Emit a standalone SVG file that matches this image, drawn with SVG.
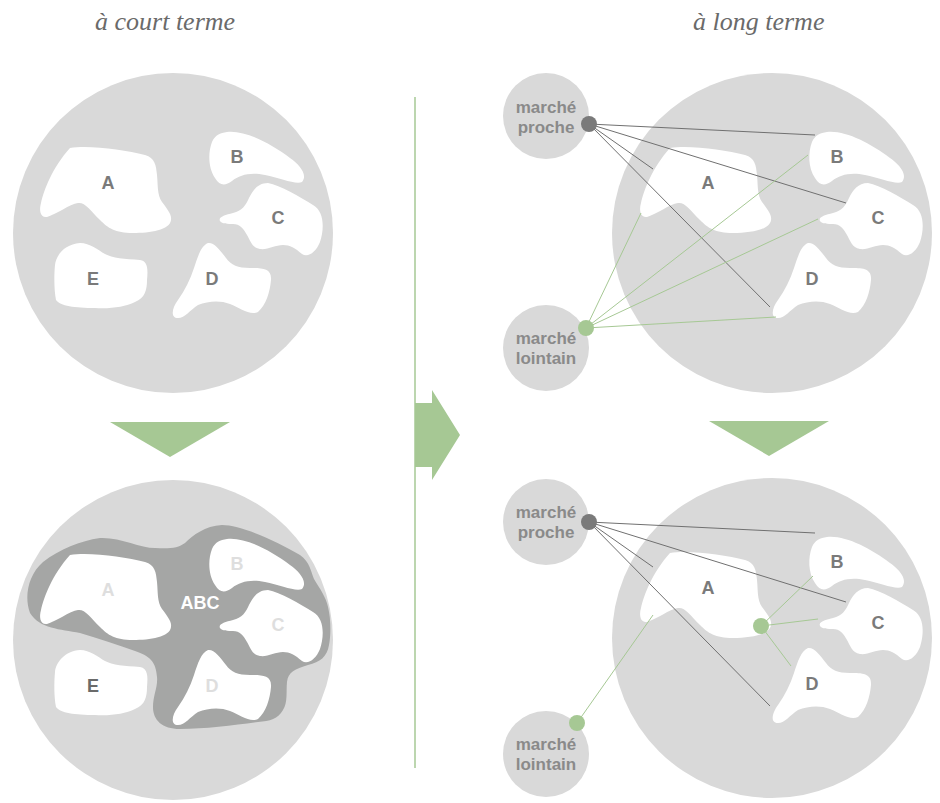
<svg xmlns="http://www.w3.org/2000/svg" xmlns:xlink="http://www.w3.org/1999/xlink" width="940" height="803" viewBox="0 0 940 803">
  <style>
    .disc { fill: #d9d9d9; }
    .blob { fill: #ffffff; }
    .merge { fill: #a5a6a5; }
    .lbl { font-family: 'Liberation Sans', Arial, sans-serif; font-weight: bold; font-size: 18px; text-anchor: middle; fill: #7a7a7a; }
    .lbl.faint { fill: #dedede; }
    .lbl.dark { fill: #6a6a6a; }
    .lbl.white { fill: #ffffff; }
    .title { font-family: 'Liberation Serif', 'Times New Roman', serif; font-style: italic; font-size: 26px; fill: #6a6a6a; }
    .mkt { font-family: 'Liberation Sans', Arial, sans-serif; font-weight: bold; font-size: 17px; text-anchor: middle; fill: #8a8a8a; }
    .near { stroke: #707070; stroke-width: 1; fill: none; }
    .far { stroke: #a6c894; stroke-width: 1; fill: none; }
    .green { fill: #a6c894; }
    .dot { fill: #7a7a7a; }
  </style>
  <defs>
    <path id="shapeA" d="M 70,148 C 90,145 125,150 145,155 C 155,158 156,165 157,175 C 158,185 157,195 162,202 C 168,210 172,215 171,220 C 170,230 150,233 133,233 C 115,233 108,228 100,220 C 90,210 85,202 78,203 C 70,204 55,215 47,217 C 40,218 39,210 41,203 C 44,190 52,168 70,148 Z"/>
    <path id="shapeB" d="M 227,132 C 245,130 270,143 290,158 C 300,165 308,175 302,182 C 296,185 280,178 265,175 C 250,172 240,175 232,181 C 225,186 220,186 215,178 C 208,168 208,152 212,142 C 215,135 220,133 227,132 Z"/>
    <path id="shapeC" d="M 268,183 C 280,185 300,197 313,205 C 325,212 324,230 320,242 C 316,252 308,258 302,254 C 295,248 290,245 283,245 C 275,245 268,250 260,249 C 252,248 250,240 247,235 C 243,228 240,224 233,224 C 228,224 222,224 220,221 C 218,217 225,215 233,213 C 242,211 246,205 249,198 C 253,190 258,183 268,183 Z"/>
    <path id="shapeD" d="M 208,243 C 214,242 220,250 226,258 C 231,265 238,268 250,268 C 262,268 272,268 271,280 C 270,292 266,305 258,312 C 250,316 240,308 230,304 C 220,300 208,301 198,305 C 190,310 185,318 178,318 C 170,318 172,308 178,300 C 185,290 190,280 194,268 C 198,256 201,246 208,243 Z"/>
    <path id="shapeE" d="M 80,243 C 90,243 98,250 105,254 C 112,258 125,259 140,260 C 148,261 148,270 147,280 C 147,290 145,298 135,302 C 125,307 110,309 95,308 C 75,308 60,306 56,300 C 54,290 54,275 55,265 C 56,255 65,244 80,243 Z"/>
    <path id="shapeABC" d="M 30,206 C 24,190 28,168 43,155 C 60,142 80,134 100,131 C 120,130 140,141 155,141 C 170,142 178,141 185,136 C 193,128 205,119 222,118 C 240,118 275,133 300,148 C 310,155 311,165 314,172 C 320,182 326,190 328,200 C 331,212 331,228 329,238 C 327,250 320,255 308,258 C 295,262 288,265 287,275 C 286,285 288,295 283,303 C 278,312 270,314 258,315 C 235,318 205,322 180,322 C 162,322 153,313 153,300 C 153,288 158,280 157,270 C 156,255 150,249 135,244 C 118,238 100,232 80,226 C 60,222 40,222 30,206 Z"/>
    <polygon id="downArrow" points="0,0 120,0 60,35"/>
  </defs>

  <!-- column headings -->
  <text class="title" x="95" y="30" font-family="Liberation Serif, serif" font-style="italic">à court terme</text>
  <text class="title" x="693" y="30" font-family="Liberation Serif, serif" font-style="italic">à long terme</text>

  <!-- divider and transition arrow -->
  <g id="divider">
    <line x1="415" y1="97" x2="415" y2="768" stroke="#a6c894" stroke-width="1.5"/>
    <polygon class="green" points="415,403 432,403 432,390 460,435 432,480 432,467 415,467"/>
  </g>

  <!-- short term: separate markets -->
  <g id="short-before">
    <circle class="disc" cx="173" cy="233" r="160"/>
    <g id="sb-A"><use href="#shapeA" class="blob"/><text class="lbl" x="108" y="189">A</text></g>
    <g id="sb-B"><use href="#shapeB" class="blob"/><text class="lbl" x="237" y="163">B</text></g>
    <g id="sb-C"><use href="#shapeC" class="blob"/><text class="lbl" x="278" y="224">C</text></g>
    <g id="sb-D"><use href="#shapeD" class="blob"/><text class="lbl" x="212" y="285">D</text></g>
    <g id="sb-E"><use href="#shapeE" class="blob"/><text class="lbl" x="93" y="285">E</text></g>
  </g>

  <use href="#downArrow" class="green" x="110" y="422"/>

  <!-- short term: merged ABC zone -->
  <g id="short-after" transform="translate(0,407)">
    <circle class="disc" cx="173" cy="233" r="160"/>
    <g id="sa-ABC"><use href="#shapeABC" class="merge"/><text class="lbl white" x="200" y="202">ABC</text></g>
    <g id="sa-A"><use href="#shapeA" class="blob"/><text class="lbl faint" x="108" y="189">A</text></g>
    <g id="sa-B"><use href="#shapeB" class="blob"/><text class="lbl faint" x="237" y="163">B</text></g>
    <g id="sa-C"><use href="#shapeC" class="blob"/><text class="lbl faint" x="278" y="224">C</text></g>
    <g id="sa-D"><use href="#shapeD" class="blob"/><text class="lbl faint" x="212" y="285">D</text></g>
    <g id="sa-E"><use href="#shapeE" class="blob"/><text class="lbl dark" x="93" y="285">E</text></g>
  </g>

  <!-- long term: each region served from both markets -->
  <g id="long-before">
    <circle class="disc" cx="772" cy="233" r="160"/>
    <g transform="translate(600,0)">
      <g id="lb-A"><use href="#shapeA" class="blob"/><text class="lbl" x="108" y="189">A</text></g>
      <g id="lb-B"><use href="#shapeB" class="blob"/><text class="lbl" x="237" y="163">B</text></g>
      <g id="lb-C"><use href="#shapeC" class="blob"/><text class="lbl" x="278" y="224">C</text></g>
      <g id="lb-D"><use href="#shapeD" class="blob"/><text class="lbl" x="212" y="285">D</text></g>
    </g>
  </g>
  <g id="lb-near-market">
    <circle class="disc" cx="546" cy="116" r="43"/>
    <text class="mkt" x="546" y="113">marché</text>
    <text class="mkt" x="546" y="133">proche</text>
  </g>
  <g id="lb-far-market">
    <circle class="disc" cx="546" cy="348" r="43"/>
    <text class="mkt" x="546" y="344">marché</text>
    <text class="mkt" x="546" y="364">lointain</text>
  </g>
  <g id="lb-connectors">
    <line class="near" x1="589" y1="124" x2="815" y2="135"/>
    <line class="near" x1="589" y1="124" x2="846" y2="203"/>
    <line class="near" x1="589" y1="124" x2="653" y2="169"/>
    <line class="near" x1="589" y1="124" x2="770" y2="307"/>
    <line class="far" x1="586" y1="328" x2="641" y2="213"/>
    <line class="far" x1="586" y1="328" x2="808" y2="155"/>
    <line class="far" x1="586" y1="328" x2="818" y2="219"/>
    <line class="far" x1="586" y1="328" x2="776" y2="317"/>
    <circle class="dot" cx="589" cy="124" r="8"/>
    <circle class="green" cx="586" cy="328" r="8"/>
  </g>

  <use href="#downArrow" class="green" x="709" y="421"/>

  <!-- long term: far market reaches a shared hub -->
  <g id="long-after">
    <circle class="disc" cx="772" cy="638" r="160"/>
    <g transform="translate(600,405)">
      <g id="la-A"><use href="#shapeA" class="blob"/><text class="lbl" x="108" y="189">A</text></g>
      <g id="la-B"><use href="#shapeB" class="blob"/><text class="lbl" x="237" y="163">B</text></g>
      <g id="la-C"><use href="#shapeC" class="blob"/><text class="lbl" x="278" y="224">C</text></g>
      <g id="la-D"><use href="#shapeD" class="blob"/><text class="lbl" x="212" y="285">D</text></g>
    </g>
  </g>
  <g id="la-near-market">
    <circle class="disc" cx="546" cy="522" r="43"/>
    <text class="mkt" x="546" y="518">marché</text>
    <text class="mkt" x="546" y="538">proche</text>
  </g>
  <g id="la-far-market">
    <circle class="disc" cx="546" cy="754" r="43"/>
    <text class="mkt" x="546" y="750">marché</text>
    <text class="mkt" x="546" y="770">lointain</text>
  </g>
  <g id="la-connectors">
    <line class="near" x1="589" y1="522" x2="815" y2="533"/>
    <line class="near" x1="589" y1="522" x2="846" y2="602"/>
    <line class="near" x1="589" y1="522" x2="653" y2="567"/>
    <line class="near" x1="589" y1="522" x2="770" y2="706"/>
    <line class="far" x1="577" y1="723" x2="653" y2="615"/>
    <line class="far" x1="761" y1="626" x2="813" y2="576"/>
    <line class="far" x1="761" y1="626" x2="818" y2="619"/>
    <line class="far" x1="761" y1="626" x2="791" y2="666"/>
    <circle class="dot" cx="589" cy="522" r="8"/>
    <circle class="green" cx="577" cy="723" r="8"/>
    <circle class="green" cx="761" cy="626" r="8"/>
  </g>
</svg>
